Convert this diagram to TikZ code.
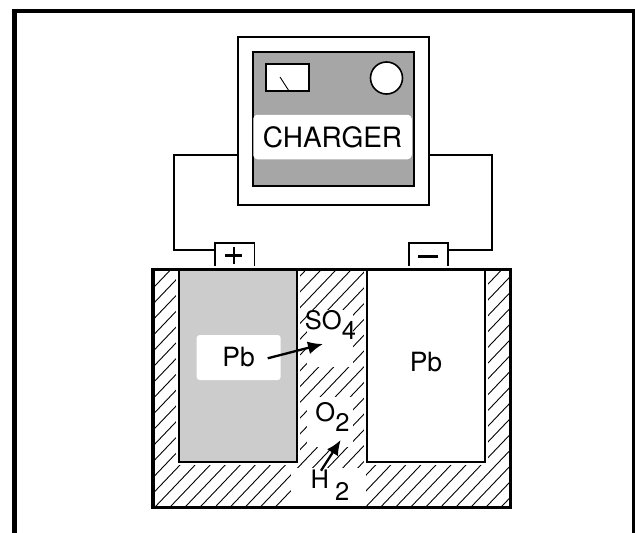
\documentclass[tikz,border=0pt]{standalone}
\usepackage{fontspec}
\setmainfont{TeX Gyre Heros}
\usetikzlibrary{arrows.meta,positioning}
\begin{document}
\begin{tikzpicture}[x=1pt,y=-1pt,>={Latex[length=15pt,width=13pt]},
 outline/.style={draw,line width=#1,inner sep=0pt},
 plate/.style={outline=2.2pt,preaction={draw=white,line width=6pt},
 minimum width=118pt,minimum height=193pt},
 terminal/.style={outline=1.9pt,fill=white,minimum width=39.5pt,minimum height=27pt},
 blank/.style={fill=white,inner sep=0pt},
 chem/.style={inner sep=0pt,font=\fontsize{25.5}{28}\selectfont},
 plumb/.style={inner sep=0pt,font=\fontsize{26.5}{28}\selectfont},
 wire/.style={line width=2.3pt}]
\useasboundingbox (0,0) rectangle (635,533);
\draw[line width=4.2pt] (14.5,540) |- (634.5,11) -- (634.5,540);
% charger
\node[outline=2.6pt,minimum width=191pt,minimum height=168pt] (charger) at (333.5,121) {};
\node[outline=1.6pt,fill=black!35,minimum width=161pt,minimum height=134pt] (panel) at (333.5,119) {};
\node[outline=1.6pt,fill=white,minimum width=43pt,minimum height=27.5pt] (meter) at (287.5,77.5) {};
\node[outline=1.6pt,fill=white,circle,minimum size=32pt] (dial) at (386.5,78) {};
\node[fill=white,rounded corners=4pt,minimum width=158.5pt,minimum height=44.5pt,inner sep=0pt,
 font=\fontsize{28}{30}\selectfont] (chargerlabel) at (332.5,137) {CHARGER};
\coordinate (needletop) at (280,77);
\coordinate (needlebot) at (289,91);
\draw[line width=.9pt] (needletop)--(needlebot);
% terminals
\node[terminal] (plus) at (234.7,256.2) {};
\node[terminal] (minus) at (428.3,256.2) {};
\node[inner sep=0pt] (plussign) at (233.7,255.5) {};
\draw[line width=2.2pt] ([xshift=-8.5pt]plussign.center)--([xshift=8.5pt]plussign.center);
\draw[line width=2.2pt] ([yshift=-8.5pt]plussign.center)--([yshift=8.5pt]plussign.center);
\draw[line width=2.8pt] ([xshift=-10pt]minus.center)--([xshift=10pt]minus.center);
\coordinate (wireL) at (238,155);
\coordinate (wireR) at (429,155);
\coordinate (wirePlus) at (215,250.3);
\coordinate (wireMinus) at (448,250.3);
\draw[wire] (wireL)-|(174.3,250.3)--(wirePlus);
\draw[wire] (wireR)-|(492,250.3)--(wireMinus);
% hatching of the acid
\begin{scope}
\clip (153,269) rectangle (510,507);
\foreach \k in {-16,...,25}
 \draw[line width=.9pt] ({155+15.05*\k},507)--({155+15.05*\k+227},269);
\end{scope}
\node[blank,minimum width=46pt,minimum height=57pt] (gapso) at (330,338.5) {};
\node[blank,minimum width=46pt,minimum height=50pt] (gapo) at (330,422) {};
\node[blank,minimum width=75pt,minimum height=38pt] (gaph) at (328.5,487) {};
% plates
\node[plate,fill=black!20] (plateL) at (238.2,365.5) {};
\node[plate,fill=white] (plateR) at (426,365.5) {};
\node[plumb,fill=white,rounded corners=3pt,minimum width=84pt,minimum height=45pt] (pbL) at (238.7,357.5) {Pb};
\node[plumb] (pbR) at (426,362) {Pb};
\node[outline=3.5pt,minimum width=357.5pt,minimum height=238pt] (battery) at (331.8,388.5) {};
% gases
\node[chem] (so) at (330.5,325) {SO\raisebox{-9.5pt}{4}};
\node[chem] (oxy) at (332.5,417) {O\raisebox{-9.5pt}{2}};
\node[chem] (hyd) at (330,485) {H\hspace{6pt}\raisebox{-12.5pt}{2}};
\coordinate (sotail) at (267.7,358.3);
\coordinate (sotip) at (323,344);
\coordinate (htail) at (321,470.7);
\coordinate (htip) at (340.7,440);
\draw[->,line width=2.3pt] (sotail)--(sotip);
\draw[->,line width=2.3pt] (htail)--(htip);
\end{tikzpicture}
\end{document}
